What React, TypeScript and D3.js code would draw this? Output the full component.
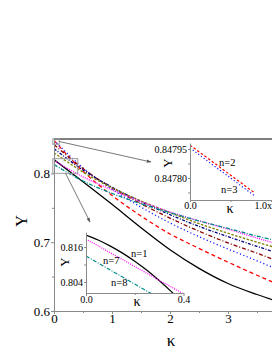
import React, { useEffect, useRef } from 'react';
import * as d3 from 'd3';

// main panel: Y against kappa for n = 1..8
const kappa = [0, 0.5, 1, 1.5, 2, 2.5, 3, 3.5, 4];
const yN1 = [0.8201, 0.788, 0.755, 0.721, 0.689, 0.662, 0.64, 0.624, 0.61];
const yN2 = [0.848, 0.803, 0.768, 0.738, 0.712, 0.691, 0.671, 0.652, 0.634];
const yN3 = [0.848, 0.808, 0.777, 0.751, 0.728, 0.708, 0.69, 0.673, 0.655];
const yN4 = [0.842, 0.807, 0.779, 0.756, 0.735, 0.716, 0.699, 0.684, 0.668];
const yN5 = [0.836, 0.805, 0.78, 0.759, 0.74, 0.723, 0.708, 0.694, 0.68];
const yN6 = [0.83, 0.802, 0.779, 0.76, 0.743, 0.727, 0.713, 0.7, 0.688];
const yN7 = [0.8187, 0.795, 0.776, 0.759, 0.744, 0.731, 0.719, 0.706, 0.694];
const yN8 = [0.8129, 0.789, 0.771, 0.756, 0.743, 0.731, 0.72, 0.709, 0.699];

const xTicks = [0, 1, 2, 3];
const xMinor = [0.5, 1.5, 2.5, 3.5];
const yTicks = [0.6, 0.7, 0.8];
const yMinor = [0.65, 0.75];

// upper inset (n=2, n=3 near kappa = 0)
const kappaA = [0, 0.2, 0.4, 0.6, 0.8];
const yA2 = [0.84797, 0.847908, 0.847846, 0.847784, 0.847722];
const yA3 = [0.847955, 0.847893, 0.847831, 0.847769, 0.847707];
const xTicksA = [0, 1];
const xMinorA = [0.5];
const yTicksA = [0.84795, 0.8478];
const yMinorA = [0.847875, 0.847725];

// lower inset (n=1, n=7, n=8)
const kappaB = [0, 0.05, 0.1, 0.15, 0.2, 0.25, 0.3, 0.35, 0.4];
const yB1 = [0.8201, 0.8184, 0.8163, 0.8139, 0.8111, 0.808, 0.8045, 0.8007, 0.7965];
const yB7 = [0.8187, 0.8164, 0.814, 0.8117, 0.8093, 0.807, 0.8046, 0.8023, 0.7999];
const yB8 = [0.8129, 0.8105, 0.8081, 0.8057, 0.8033, 0.8009, 0.7985, 0.7961, 0.7937];
const xTicksB = [0, 0.4];
const xMinorB = [0.2];
const yTicksB = [0.816, 0.804];
const yMinorB = [0.81];

const FONT = "'Liberation Serif', 'Times New Roman', Times, serif";
const AXIS = '#8a8a8a';

const lineStyle: Record<string, { color: string; dash: string | null }> = {
  n1: { color: '#000000', dash: null },
  n2: { color: '#ff0000', dash: '4,3' },
  n3: { color: '#1a1aff', dash: '1.2,2.4' },
  n4: { color: '#8b0000', dash: '4,2,1,2' },
  n5: { color: '#000080', dash: '3,1.5,1,1.5' },
  n6: { color: '#808000', dash: '2.5,1.5' },
  n7: { color: '#ff00ff', dash: '1,1.2' },
  n8: { color: '#008b8b', dash: '4,1.5,1,1.5' },
};

function App() {
  const ref = useRef<SVGSVGElement>(null);

  useEffect(() => {
    const svg = d3.select(ref.current);
    svg.selectAll('*').remove();

    const styleAxis = (g: any, size: number) => {
      g.attr('font-family', null).attr('font-size', null)
        .style('font-family', FONT).style('font-size', `${size}px`);
      g.select('.domain').attr('stroke', AXIS).attr('stroke-width', 1);
      g.selectAll('.tick line').attr('stroke', AXIS);
      g.selectAll('.tick text').attr('fill', '#000');
    };
    const minor = (g: any) => {
      g.select('.domain').remove();
      g.selectAll('.tick line').attr('stroke', AXIS);
    };
    const label = (txt: string, size: number) =>
      svg.append('text').style('font-family', FONT).style('font-size', `${size}px`).text(txt);

    const defs = svg.append('defs');
    const marker = defs.append('marker')
      .attr('id', 'arrow')
      .attr('viewBox', '0 0 10 10')
      .attr('refX', 9).attr('refY', 5)
      .attr('markerWidth', 6).attr('markerHeight', 6)
      .attr('orient', 'auto');
    marker.append('path').attr('d', 'M0,1.5 L10,5 L0,8.5 Z').attr('fill', '#555');

    // ---------- main panel ----------
    const x = d3.scaleLinear().domain([0, 4]).range([54, 286]);
    const y = d3.scaleLinear().domain([0.6, 0.85]).range([311, 139]);

    defs.append('clipPath').attr('id', 'clipMain')
      .append('rect').attr('x', 54).attr('y', 139).attr('width', 232).attr('height', 172);

    const mainSeries = [
      { key: 'n1', v: yN1 }, { key: 'n2', v: yN2 }, { key: 'n3', v: yN3 },
      { key: 'n4', v: yN4 }, { key: 'n5', v: yN5 }, { key: 'n6', v: yN6 },
      { key: 'n7', v: yN7 }, { key: 'n8', v: yN8 },
    ];
    const mainLine = d3.line<number>()
      .x((_, i) => x(kappa[i]))
      .y(d => y(d))
      .curve(d3.curveMonotoneX);

    const gLines = svg.append('g').attr('clip-path', 'url(#clipMain)');
    mainSeries.forEach(s => {
      gLines.append('path')
        .attr('d', mainLine(s.v))
        .attr('fill', 'none')
        .attr('stroke', lineStyle[s.key].color)
        .attr('stroke-width', 1.3)
        .attr('stroke-dasharray', lineStyle[s.key].dash);
    });

    // top frame
    svg.append('line')
      .attr('x1', x(0)).attr('x2', x(4)).attr('y1', y(0.85)).attr('y2', y(0.85))
      .attr('stroke', '#000').attr('stroke-width', 1);

    svg.append('g').attr('transform', `translate(0,${y(0.6)})`)
      .call(d3.axisBottom(x).tickValues(xTicks).tickFormat(d3.format('d')).tickSize(3).tickSizeOuter(0).tickPadding(0))
      .call(g => styleAxis(g, 13));
    svg.append('g').attr('transform', `translate(0,${y(0.6)})`)
      .call(d3.axisBottom(x).tickValues(xMinor).tickFormat(() => '').tickSize(2))
      .call(minor);
    svg.append('g').attr('transform', `translate(${x(0)},0)`)
      .call(d3.axisLeft(y).tickValues(yTicks).tickFormat(d3.format('.1f')).tickSize(3).tickSizeOuter(0).tickPadding(1))
      .call(g => styleAxis(g, 13));
    svg.append('g').attr('transform', `translate(${x(0)},0)`)
      .call(d3.axisLeft(y).tickValues(yMinor).tickFormat(() => '').tickSize(2))
      .call(minor);

    label('κ', 17).attr('x', 171).attr('y', 346).attr('text-anchor', 'middle');
    label('Y', 16).attr('transform', 'translate(27,221) rotate(-90)').attr('text-anchor', 'middle');

    // zoom boxes and arrows
    const box1 = { k0: -0.02, k1: 0.09, y0: 0.8423, y1: 0.8504 };
    const box2 = { k0: -0.02, k1: 0.41, y0: 0.8001, y1: 0.8214 };
    [box1, box2].forEach(b => {
      svg.append('rect')
        .attr('x', x(b.k0)).attr('y', y(b.y1))
        .attr('width', x(b.k1) - x(b.k0)).attr('height', y(b.y0) - y(b.y1))
        .attr('fill', 'none').attr('stroke', '#999').attr('stroke-width', 1);
    });
    svg.append('line')
      .attr('x1', x(box1.k1)).attr('y1', y((box1.y0 + box1.y1) / 2))
      .attr('x2', 151).attr('y2', 162)
      .attr('stroke', '#555').attr('stroke-width', 0.8)
      .attr('marker-end', 'url(#arrow)');
    svg.append('line')
      .attr('x1', x(0.2)).attr('y1', y(box2.y0))
      .attr('x2', 90).attr('y2', 222)
      .attr('stroke', '#555').attr('stroke-width', 0.8)
      .attr('marker-end', 'url(#arrow)');

    // ---------- upper inset ----------
    const xa = d3.scaleLinear().domain([0, 1]).range([190, 271]);
    const ya = d3.scaleLinear().domain([0.847686, 0.847981]).range([200, 143]);
    const lineA = d3.line<number>().x((_, i) => xa(kappaA[i])).y(d => ya(d));
    [{ key: 'n2', v: yA2 }, { key: 'n3', v: yA3 }].forEach(s => {
      svg.append('path')
        .attr('d', lineA(s.v))
        .attr('fill', 'none')
        .attr('stroke', lineStyle[s.key].color)
        .attr('stroke-width', 1.2)
        .attr('stroke-dasharray', s.key === 'n2' ? '2.5,2' : '1.2,2.2');
    });
    svg.append('g').attr('transform', `translate(0,${ya(0.847686)})`)
      .call(d3.axisBottom(xa).tickValues(xTicksA)
        .tickFormat(d => (d === 0 ? '0.0' : '1.0x10⁻⁴')).tickSize(2).tickSizeOuter(0).tickPadding(0))
      .call(g => styleAxis(g, 10));
    svg.append('g').attr('transform', `translate(0,${ya(0.847686)})`)
      .call(d3.axisBottom(xa).tickValues(xMinorA).tickFormat(() => '').tickSize(2))
      .call(minor);
    svg.append('g').attr('transform', `translate(${xa(0)},0)`)
      .call(d3.axisLeft(ya).tickValues(yTicksA).tickFormat(d3.format('.5f')).tickSize(2).tickSizeOuter(0).tickPadding(1))
      .call(g => styleAxis(g, 10));
    svg.append('g').attr('transform', `translate(${xa(0)},0)`)
      .call(d3.axisLeft(ya).tickValues(yMinorA).tickFormat(() => '').tickSize(2))
      .call(minor);
    label('κ', 14).attr('x', 230).attr('y', 213).attr('text-anchor', 'middle');
    label('Y', 13).attr('transform', 'translate(172,163) rotate(-90)').attr('text-anchor', 'middle');
    label('n=2', 10.5).attr('x', 219).attr('y', 166);
    label('n=3', 10.5).attr('x', 221).attr('y', 193);

    // ---------- lower inset ----------
    const xb = d3.scaleLinear().domain([0, 0.4]).range([86, 183.5]);
    const yb = d3.scaleLinear().domain([0.80023, 0.82114]).range([293, 232]);
    defs.append('clipPath').attr('id', 'clipB')
      .append('rect').attr('x', 86).attr('y', 228).attr('width', 104).attr('height', 65);
    const lineB = d3.line<number>()
      .x((_, i) => xb(kappaB[i]))
      .y(d => yb(d))
      .curve(d3.curveMonotoneX);
    const gB = svg.append('g').attr('clip-path', 'url(#clipB)');
    [{ key: 'n1', v: yB1 }, { key: 'n7', v: yB7 }, { key: 'n8', v: yB8 }].forEach(s => {
      gB.append('path')
        .attr('d', lineB(s.v))
        .attr('fill', 'none')
        .attr('stroke', lineStyle[s.key].color)
        .attr('stroke-width', 1.2)
        .attr('stroke-dasharray', lineStyle[s.key].dash);
    });
    svg.append('g').attr('transform', `translate(0,${yb(0.80023)})`)
      .call(d3.axisBottom(xb).tickValues(xTicksB).tickFormat(d3.format('.1f')).tickSize(3).tickSizeOuter(0).tickPadding(0))
      .call(g => styleAxis(g, 10));
    svg.append('g').attr('transform', `translate(0,${yb(0.80023)})`)
      .call(d3.axisBottom(xb).tickValues(xMinorB).tickFormat(() => '').tickSize(2))
      .call(minor);
    svg.append('g').attr('transform', `translate(${xb(0)},0)`)
      .call(d3.axisLeft(yb).tickValues(yTicksB).tickFormat(d3.format('.3f')).tickSize(2).tickSizeOuter(0).tickPadding(1))
      .call(g => styleAxis(g, 10));
    svg.append('g').attr('transform', `translate(${xb(0)},0)`)
      .call(d3.axisLeft(yb).tickValues(yMinorB).tickFormat(() => '').tickSize(2))
      .call(minor);
    label('κ', 14).attr('x', 137).attr('y', 306).attr('text-anchor', 'middle');
    label('Y', 13).attr('transform', 'translate(69,262) rotate(-90)').attr('text-anchor', 'middle');
    label('n=1', 10.5).attr('x', 131).attr('y', 257);
    label('n=7', 10.5).attr('x', 103).attr('y', 264);
    label('n=8', 10.5).attr('x', 111).attr('y', 286);
  }, []);

  return (
    <svg
      ref={ref}
      width={272}
      height={352}
      style={{ position: 'absolute', left: 0, top: 0, background: '#fff', overflow: 'hidden' }}
    />
  );
}

export default App;
